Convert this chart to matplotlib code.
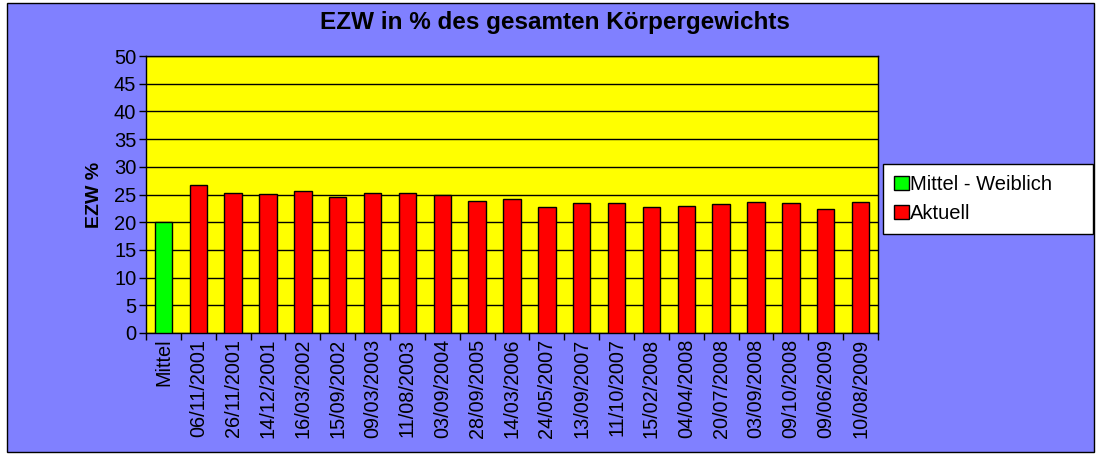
import matplotlib
matplotlib.use("Agg")
import matplotlib.pyplot as plt
import numpy as np
from matplotlib.patches import Patch, Rectangle

plt.rcParams['font.family'] = ['Liberation Sans', 'DejaVu Sans']

# ---- data ----
categories = ['Mittel', '06/11/2001', '26/11/2001', '14/12/2001', '16/03/2002',
              '15/09/2002', '09/03/2003', '11/08/2003', '03/09/2004', '28/09/2005',
              '14/03/2006', '24/05/2007', '13/09/2007', '11/10/2007', '15/02/2008',
              '04/04/2008', '20/07/2008', '03/09/2008', '09/10/2008', '09/06/2009',
              '10/08/2009']
mittel_value = 20.0
aktuell_values = [26.7, 25.2, 25.1, 25.6, 24.5, 25.2, 25.3, 25.0, 23.9,
                  24.1, 22.7, 23.4, 23.5, 22.7, 23.0, 23.2, 23.7, 23.4,
                  22.4, 23.6]
legend_labels = ['Mittel - Weiblich', 'Aktuell']

# ---- figure ----
fig = plt.figure(figsize=(10.98, 4.55), dpi=100)
fig.patch.set_facecolor('white')
bg = Rectangle((7/1098, 3/455), 1087/1098, 449/455,
               transform=fig.transFigure, facecolor='#8080FF',
               edgecolor='black', linewidth=1, zorder=-5)
fig.add_artist(bg)

ax = fig.add_axes([146/1098, 1 - 333/455, 732/1098, 277/455])
ax.set_zorder(1)
ax.set_facecolor('#FFFF00')

x = np.arange(len(categories))
ax.bar(x[0], mittel_value, width=0.5, color='#00FF00', edgecolor='black',
       linewidth=1, zorder=3)
ax.bar(x[1:], aktuell_values, width=0.5, color='#FF0000', edgecolor='black',
       linewidth=1, zorder=3)

ax.set_xlim(-0.5, len(categories) - 0.5)
ax.set_ylim(0, 50)
ax.set_yticks(np.arange(0, 51, 5))
ax.yaxis.grid(True, color='black', linewidth=1, zorder=1)
ax.set_axisbelow(True)

ax.set_xticks(x)
ax.set_xticklabels(categories, rotation=90, fontsize=14.3)
ax.set_xticks(np.arange(-0.5, len(categories), 1), minor=True)
ax.tick_params(axis='x', which='major', length=0, pad=4)
ax.tick_params(axis='x', which='minor', length=5, direction='out', width=1)
ax.tick_params(axis='y', length=5, direction='out', width=1, labelsize=14.5, pad=2)

for s in ax.spines.values():
    s.set_linewidth(1)
    s.set_color('black')

ax.set_ylabel('EZW %', fontsize=14, fontweight='bold', labelpad=8)
fig.text(555/1098, 1 - 23/455, 'EZW in % des gesamten Körpergewichts',
         ha='center', va='center', fontsize=17.5, fontweight='bold')

handles = [Patch(facecolor='#00FF00', edgecolor='black'),
           Patch(facecolor='#FF0000', edgecolor='black')]
leg = fig.legend(handles, legend_labels, loc='upper left', mode='expand',
                 bbox_to_anchor=(883/1098, 1 - 230/455, 210/1098, 66/455),
                 fontsize=14.5, frameon=True, fancybox=False, edgecolor='black',
                 facecolor='white', framealpha=1,
                 handlelength=0.75, handleheight=0.75, handletextpad=0.05,
                 borderpad=0.55, labelspacing=0.5, borderaxespad=0)
leg.get_frame().set_linewidth(1)
leg.set_zorder(2)

fig.savefig('out.png', dpi=100)
